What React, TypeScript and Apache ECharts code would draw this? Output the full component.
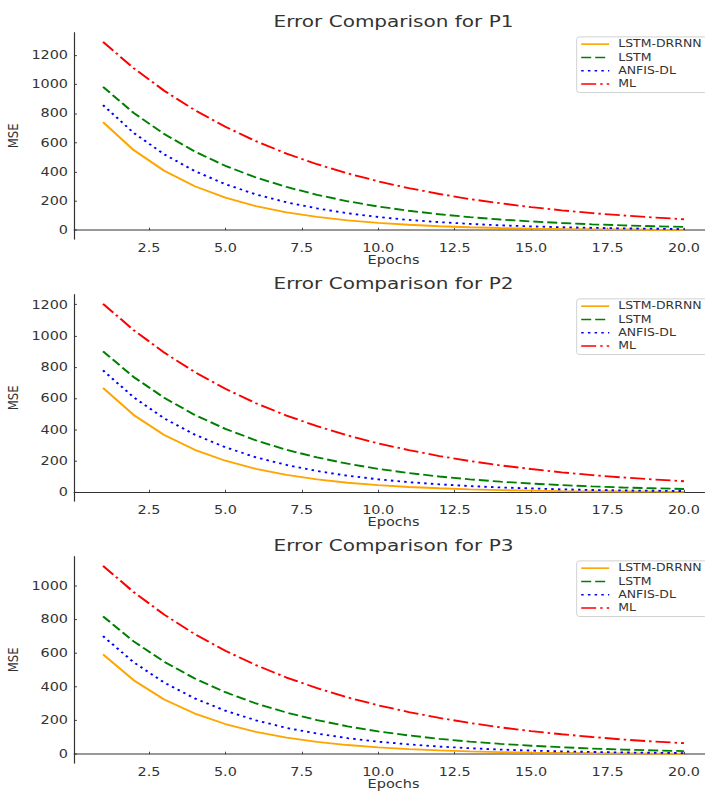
import React, { useEffect, useRef } from "react";
import * as echarts from "echarts";

// ---------- data ----------
const epochs = [1, 2, 3, 4, 5, 6, 7, 8, 9, 10, 11, 12, 13, 14, 15, 16, 17, 18, 19, 20];
const seriesNames = ["LSTM-DRRNN", "LSTM", "ANFIS-DL", "ML"];
const panelTitles = ["Error Comparison for P1", "Error Comparison for P2", "Error Comparison for P3"];

const p1Drrnn = [741, 549, 407, 301, 223, 165, 122, 91, 67, 50, 37, 27, 20, 15, 11, 8, 6, 5, 3, 2];
const p1Lstm = [982, 804, 659, 539, 441, 361, 296, 242, 198, 162, 133, 109, 89, 73, 60, 49, 40, 33, 27, 22];
const p1Anfis = [857, 667, 520, 405, 315, 245, 191, 149, 116, 90, 70, 55, 43, 33, 26, 20, 16, 12, 10, 7];
const p1Ml = [1291, 1111, 956, 823, 709, 610, 525, 452, 389, 335, 288, 248, 213, 184, 158, 136, 117, 101, 87, 75];

const p2Drrnn = [667, 494, 366, 271, 201, 149, 110, 82, 60, 45, 33, 25, 18, 13, 10, 7, 5, 4, 3, 2];
const p2Lstm = [901, 737, 604, 494, 405, 331, 271, 222, 182, 149, 122, 100, 82, 67, 55, 45, 37, 30, 25, 20];
const p2Anfis = [779, 607, 472, 368, 287, 223, 174, 135, 105, 82, 64, 50, 39, 30, 24, 18, 14, 11, 9, 7];
const p2Ml = [1205, 1037, 893, 768, 661, 569, 490, 422, 363, 312, 269, 231, 199, 171, 148, 127, 109, 94, 81, 70];

const p3Drrnn = [593, 439, 325, 241, 179, 132, 98, 73, 54, 40, 30, 22, 16, 12, 9, 7, 5, 4, 3, 2];
const p3Lstm = [819, 670, 549, 449, 368, 301, 247, 202, 165, 135, 111, 91, 74, 61, 50, 41, 33, 27, 22, 18];
const p3Anfis = [701, 546, 425, 331, 258, 201, 156, 122, 95, 74, 58, 45, 35, 27, 21, 16, 13, 10, 8, 6];
const p3Ml = [1119, 963, 829, 713, 614, 529, 455, 392, 337, 290, 250, 215, 185, 159, 137, 118, 102, 87, 75, 65];

const xTickValues = [2.5, 5, 7.5, 10, 12.5, 15, 17.5, 20];
const yTicksP1 = [0, 200, 400, 600, 800, 1000, 1200];
const yTicksP2 = [0, 200, 400, 600, 800, 1000, 1200];
const yTicksP3 = [0, 200, 400, 600, 800, 1000];

// ---------- styling / layout ----------
const SY = 0.8; // vertical squeeze of the reference picture
const H = 791 / SY;
const FONT = "DejaVu Sans";
const TXT = "#333333";
const colors = ["#FFA500", "#008000", "#0000FF", "#FF0000"];
const dashes: any[] = ["solid", [10, 4], [2.5, 4.2], [15, 4, 2.5, 4]];

const panels = [
  { title: panelTitles[0], data: [p1Drrnn, p1Lstm, p1Anfis, p1Ml], yTicks: yTicksP1, ymin: -62, ymax: 1355.7, top: 40.5 },
  { title: panelTitles[1], data: [p2Drrnn, p2Lstm, p2Anfis, p2Ml], yTicks: yTicksP2, ymin: -57.9, ymax: 1265.1, top: 368 },
  { title: panelTitles[2], data: [p3Drrnn, p3Lstm, p3Anfis, p3Ml], yTicks: yTicksP3, ymin: -53.9, ymax: 1174.8, top: 695.5 },
];
const GRID_LEFT = 74;
const GRID_W = 639;
const GRID_H = 258.5;

function buildOption(): any {
  const grid: any[] = [];
  const xAxis: any[] = [];
  const yAxis: any[] = [];
  const series: any[] = [];
  const legend: any[] = [];
  const graphic: any[] = [];

  panels.forEach((p, i) => {
    grid.push({
      left: GRID_LEFT,
      top: p.top,
      width: GRID_W,
      height: GRID_H,
      containLabel: false,
      outerBoundsMode: "none",
    });
    xAxis.push({
      gridIndex: i,
      type: "value",
      min: 0.05,
      max: 20.95,
      axisLine: { show: true, lineStyle: { color: TXT, width: 1.2 } },
      axisTick: { show: true, inside: true, length: 3, customValues: xTickValues, lineStyle: { color: TXT } },
      axisLabel: {
        customValues: xTickValues,
        formatter: (v: number) => v.toFixed(1),
        fontFamily: FONT,
        fontSize: 14.4,
        color: TXT,
        margin: 4,
      },
      splitLine: { show: false },
      name: "Epochs",
      nameLocation: "middle",
      nameGap: 19,
      nameTextStyle: { fontFamily: FONT, fontSize: 14.5, color: TXT },
    });
    yAxis.push({
      gridIndex: i,
      type: "value",
      min: p.ymin,
      max: p.ymax,
      axisLine: { show: true, lineStyle: { color: TXT, width: 1.2 } },
      axisTick: { show: true, inside: true, length: 3, customValues: p.yTicks, lineStyle: { color: TXT } },
      axisLabel: {
        customValues: p.yTicks,
        formatter: (v: number) => String(Math.round(v)),
        fontFamily: FONT,
        fontSize: 14.4,
        color: TXT,
        margin: 6,
      },
      splitLine: { show: false },
      name: "MSE",
      nameLocation: "middle",
      nameGap: 44,
      nameTextStyle: { fontFamily: FONT, fontSize: 14.5, color: TXT },
    });
    p.data.forEach((vals, k) => {
      series.push({
        type: "line",
        name: seriesNames[k],
        xAxisIndex: i,
        yAxisIndex: i,
        data: epochs.map((e, j) => [e, vals[j]]),
        symbol: "none",
        smooth: false,
        lineStyle: { color: colors[k], width: 2.3, type: dashes[k], cap: "butt" },
        itemStyle: { color: colors[k] },
        emphasis: { disabled: true },
      });
    });
    legend.push({
      orient: "vertical",
      left: 576.7,
      top: p.top + 5.6,
      itemWidth: 28,
      itemHeight: 14,
      itemGap: 3.6,
      padding: [2.6, 6, 4.2, 3.5],
      backgroundColor: "rgba(255,255,255,0.8)",
      borderColor: "#cccccc",
      borderWidth: 1,
      borderRadius: 3,
      selectedMode: false,
      itemStyle: { color: "transparent", borderWidth: 0, opacity: 0 },
      textStyle: { fontFamily: FONT, fontSize: 12.5, color: TXT, padding: [0, 0, 0, 4] },
      data: seriesNames,
    });
    graphic.push({
      type: "text",
      x: GRID_LEFT + GRID_W / 2,
      y: p.top - 13.5,
      style: {
        text: p.title,
        fontFamily: FONT,
        fontSize: 20,
        fill: TXT,
        align: "center",
        verticalAlign: "middle",
      },
    });
  });

  return {
    animation: false,
    backgroundColor: "#ffffff",
    grid,
    xAxis,
    yAxis,
    series,
    legend,
    graphic,
  };
}

export default function App() {
  const ref = useRef<HTMLDivElement>(null);
  useEffect(() => {
    if (!ref.current) return;
    const chart = echarts.init(ref.current, null, { renderer: "svg" });
    chart.setOption(buildOption());
    return () => chart.dispose();
  }, []);
  return (
    <div
      style={{
        position: "absolute",
        left: 0,
        top: 0,
        width: 705,
        height: 791,
        overflow: "hidden",
        background: "#ffffff",
      }}
    >
      <div
        ref={ref}
        style={{ width: 705, height: H, transform: `scaleY(${SY})`, transformOrigin: "0 0" }}
      />
    </div>
  );
}
